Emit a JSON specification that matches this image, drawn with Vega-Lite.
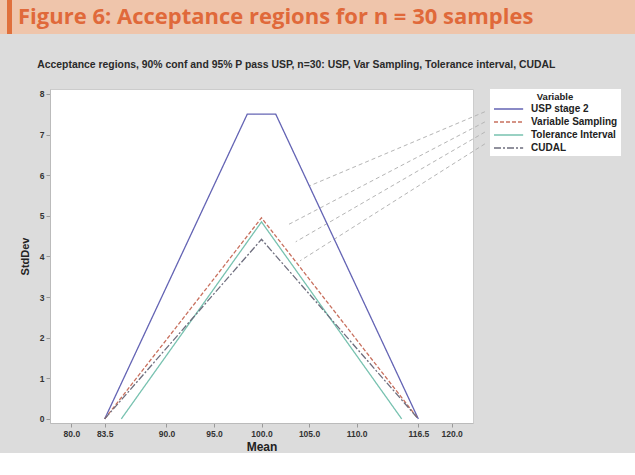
{
  "$schema": "https://vega.github.io/schema/vega-lite/v6.json",
  "background": "#dcdcdc",
  "padding": 0,
  "spacing": 25,
  "bounds": "full",
  "config": {
    "view": {"stroke": null},
    "font": "Liberation Sans"
  },
  "resolve": {
    "scale": {"x": "independent", "y": "independent", "color": "independent", "strokeDash": "independent"},
    "legend": {"color": "independent", "strokeDash": "independent"},
    "axis": {"x": "independent", "y": "independent"}
  },
  "vconcat": [
    {
      "width": 635,
      "height": 34,
      "view": {"fill": "#efc5ab", "stroke": null},
      "data": {"values": [{"label": "Figure 6: Acceptance regions for n = 30 samples"}]},
      "layer": [
        {
          "mark": {"type": "rect", "color": "#e0703c"},
          "encoding": {
            "x": {"datum": 7, "type": "quantitative", "scale": {"domain": [0, 635]}, "axis": null},
            "x2": {"datum": 12}
          }
        },
        {
          "mark": {"type": "text", "align": "left", "baseline": "middle", "font": "Open Sans", "fontWeight": "bold", "fontSize": 22, "color": "#e0693a"},
          "encoding": {
            "x": {"datum": 18, "type": "quantitative", "scale": {"domain": [0, 635]}, "axis": null},
            "text": {"field": "label"}
          }
        }
      ]
    },
    {
      "spacing": 0,
      "bounds": "flush",
      "resolve": {
        "scale": {"x": "independent", "y": "independent", "color": "independent", "strokeDash": "independent"},
        "legend": {"color": "independent", "strokeDash": "independent"},
        "axis": {"x": "independent", "y": "independent"}
      },
      "hconcat": [
        {
          "width": 50,
          "height": 334,
          "view": {"stroke": null},
          "data": {"values": []},
          "mark": {"type": "point", "opacity": 0},
          "encoding": {}
        },
        {
          "width": 423,
          "height": 334,
          "view": {"fill": "white", "stroke": "#cccccc"},
          "title": {
            "text": "Acceptance regions, 90% conf and 95% P pass USP, n=30: USP, Var Sampling, Tolerance interval, CUDAL",
            "anchor": "start",
            "frame": "bounds",
            "offset": 19,
            "fontSize": 10.4,
            "fontWeight": "bold",
            "color": "#2a2a2a",
            "dx": 18
          },
          "layer": [
            {
              "data": {"values": [
                {"sx": 123.5, "sy": 7.56, "ex": 105.1, "ey": 5.74},
                {"sx": 123.5, "sy": 7.31, "ex": 102.8, "ey": 4.78},
                {"sx": 123.5, "sy": 7.06, "ex": 103.6, "ey": 4.36},
                {"sx": 123.5, "sy": 6.77, "ex": 104.05, "ey": 3.89}
              ]},
              "mark": {"type": "rule", "color": "#b5b5b5", "strokeWidth": 1, "strokeDash": [4, 3], "clip": false},
              "encoding": {
                "x": {"field": "sx", "type": "quantitative", "scale": {"domain": [77.75, 122.25], "nice": false, "zero": false}},
                "y": {"field": "sy", "type": "quantitative", "scale": {"domain": [-0.1, 8.12], "nice": false, "zero": false}},
                "x2": {"field": "ex"},
                "y2": {"field": "ey"}
              }
            },
            {
              "data": {"values": [
                {"series": "USP stage 2", "mean": 83.5, "sd": 0},
                {"series": "USP stage 2", "mean": 98.5, "sd": 7.5},
                {"series": "USP stage 2", "mean": 101.5, "sd": 7.5},
                {"series": "USP stage 2", "mean": 116.5, "sd": 0},
                {"series": "Variable Sampling", "mean": 83.5, "sd": 0},
                {"series": "Variable Sampling", "mean": 100, "sd": 4.95},
                {"series": "Variable Sampling", "mean": 116.5, "sd": 0},
                {"series": "Tolerance Interval", "mean": 85.25, "sd": 0},
                {"series": "Tolerance Interval", "mean": 100, "sd": 4.85},
                {"series": "Tolerance Interval", "mean": 114.75, "sd": 0},
                {"series": "CUDAL", "mean": 83.5, "sd": 0},
                {"series": "CUDAL", "mean": 100, "sd": 4.42},
                {"series": "CUDAL", "mean": 116.5, "sd": 0}
              ]},
              "mark": {"type": "line", "strokeWidth": 1.3},
              "encoding": {
                "x": {
                  "field": "mean", "type": "quantitative", "title": "Mean",
                  "scale": {"domain": [77.75, 122.25], "nice": false, "zero": false},
                  "axis": {
                    "values": [80, 83.5, 90, 95, 100, 105, 110, 116.5, 120],
                    "format": ".1f", "grid": false,
                    "labelFontSize": 8.5, "labelFontWeight": "bold", "labelColor": "#333333",
                    "tickColor": "#999999", "tickSize": 4, "domainColor": "#bbbbbb",
                    "titleFontSize": 12, "titleFontWeight": "bold", "titleColor": "#222222", "titlePadding": 4
                  }
                },
                "y": {
                  "field": "sd", "type": "quantitative", "title": "StdDev",
                  "scale": {"domain": [-0.1, 8.12], "nice": false, "zero": false},
                  "axis": {
                    "values": [0, 1, 2, 3, 4, 5, 6, 7, 8],
                    "format": "d", "grid": false,
                    "labelFontSize": 8.5, "labelFontWeight": "bold", "labelColor": "#333333",
                    "tickColor": "#999999", "tickSize": 4, "domainColor": "#bbbbbb",
                    "titleFontSize": 11, "titleFontWeight": "bold", "titleColor": "#222222", "titlePadding": 9
                  }
                },
                "color": {
                  "field": "series", "type": "nominal", "title": "Variable",
                  "scale": {
                    "domain": ["USP stage 2", "Variable Sampling", "Tolerance Interval", "CUDAL"],
                    "range": ["#6464b4", "#c8705e", "#78c2b0", "#6e6e7e"]
                  },
                  "legend": {
                    "orient": "right", "offset": 17, "fillColor": "white", "padding": 3,
                    "titleFontSize": 9.5, "titleFontWeight": "bold", "titleColor": "#222222", "titleAnchor": "middle", "titlePadding": 1,
                    "labelFontSize": 10, "labelFontWeight": "bold", "labelColor": "#222222", "labelOffset": 25,
                    "symbolType": "M-1,0H4.3", "symbolSize": 121, "symbolStrokeWidth": 1.5, "rowPadding": 1
                  }
                },
                "strokeDash": {
                  "field": "series", "type": "nominal", "title": "Variable",
                  "scale": {
                    "domain": ["USP stage 2", "Variable Sampling", "Tolerance Interval", "CUDAL"],
                    "range": [[1, 0], [4, 2], [1, 0], [7, 2, 2, 2]]
                  }
                }
              }
            }
          ]
        }
      ]
    }
  ]
}
